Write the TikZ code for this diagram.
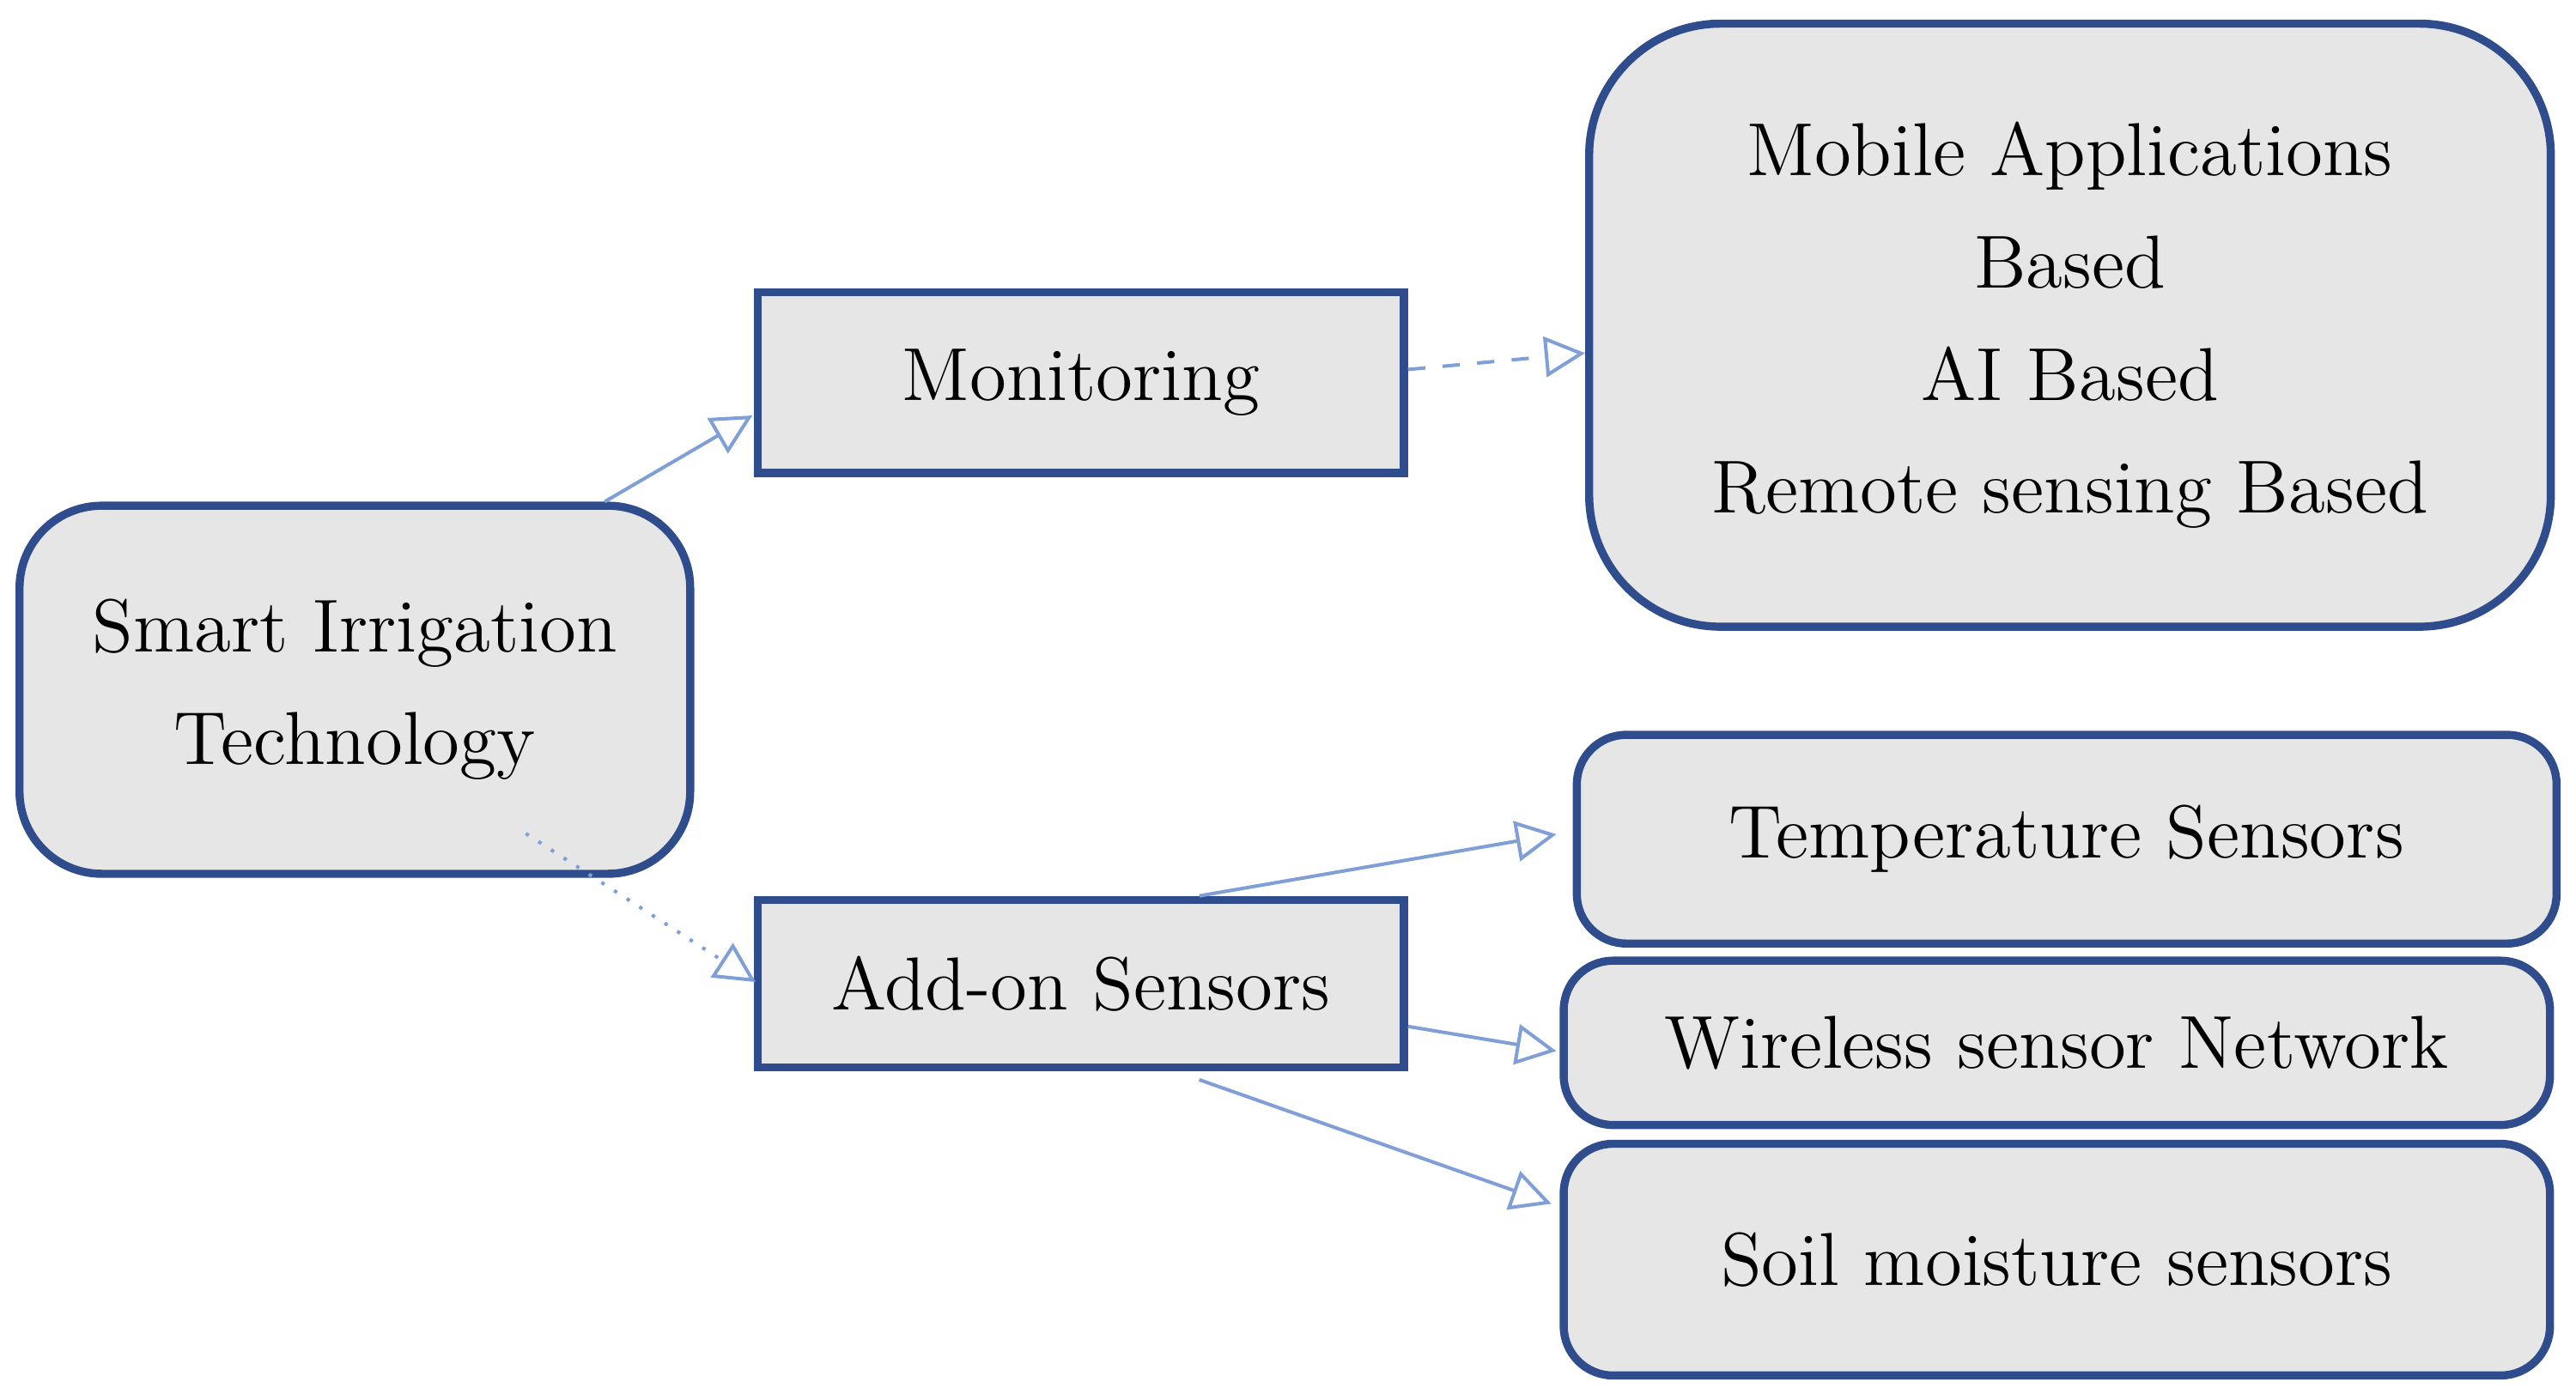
\documentclass[tikz,border=0pt]{standalone}
\usepackage{tikz}
\usetikzlibrary{positioning, shapes, arrows.meta}
\definecolor{boxline}{HTML}{2F4D8C}
\definecolor{boxfill}{HTML}{E6E6E6}
\definecolor{arrowc}{HTML}{7F9FD6}
\tikzset{
  box/.style={draw=boxline, line width=1.4pt, fill=boxfill, font=\fontsize{13}{19.5}\selectfont, align=center, inner sep=0pt},
  rbox/.style={box, rounded corners=0.5cm},
  link/.style={draw=arrowc, line width=0.6pt, -{Triangle[open, length=7pt, width=7pt]}}
}
\begin{document}
\begin{tikzpicture}[x=0.01cm, y=-0.01cm]
      \useasboundingbox (0,0) rectangle (1568,852);
      \node[rbox, minimum width=4.08cm, minimum height=2.24cm] (smart) at (216,420) {Smart Irrigation\\Technology};
      \node[box, minimum width=3.93cm, minimum height=1.10cm] (monitor) at (658,233) {Monitoring};
      \node[box, minimum width=3.93cm, minimum height=1.02cm] (addon) at (658,599) {Add-on Sensors};
      \node[rbox, rounded corners=0.8cm, minimum width=5.85cm, minimum height=3.67cm] (apps) at (1260,198) {Mobile Applications\\Based\\AI Based\\Remote sensing Based};
      \node[rbox, rounded corners=0.3cm, minimum width=5.96cm, minimum height=1.27cm] (temp) at (1258,511) {Temperature Sensors};
      \node[rbox, rounded corners=0.3cm, minimum width=6.00cm, minimum height=1.00cm] (wsn) at (1252,635) {Wireless sensor Network};
      \node[rbox, rounded corners=0.3cm, minimum width=6.00cm, minimum height=1.41cm] (soil) at (1252,767) {Soil moisture sensors};
      % connectors
      \coordinate (mon_in) at (458,253);
      \coordinate (add_in) at (460,598);
      \draw[link] ([xshift=1.52cm]smart.north) -- (mon_in);
      \draw[link, dotted] ([xshift=1.04cm, yshift=0.27cm]smart.south) -- (add_in);
      \draw[link, dashed] ([yshift=0.08cm]monitor.east) -- ([yshift=-0.17cm]apps.west);
      \draw[link] ([xshift=0.72cm]addon.north) -- ([xshift=-0.1cm, yshift=0.03cm]temp.west);
      \draw[link] ([yshift=-0.26cm]addon.east) -- ([xshift=-0.02cm, yshift=-0.05cm]wsn.west);
      \draw[link] ([xshift=0.72cm, yshift=-0.05cm]addon.south) -- ([xshift=-0.05cm, yshift=0.34cm]soil.west);
\end{tikzpicture}
\end{document}
